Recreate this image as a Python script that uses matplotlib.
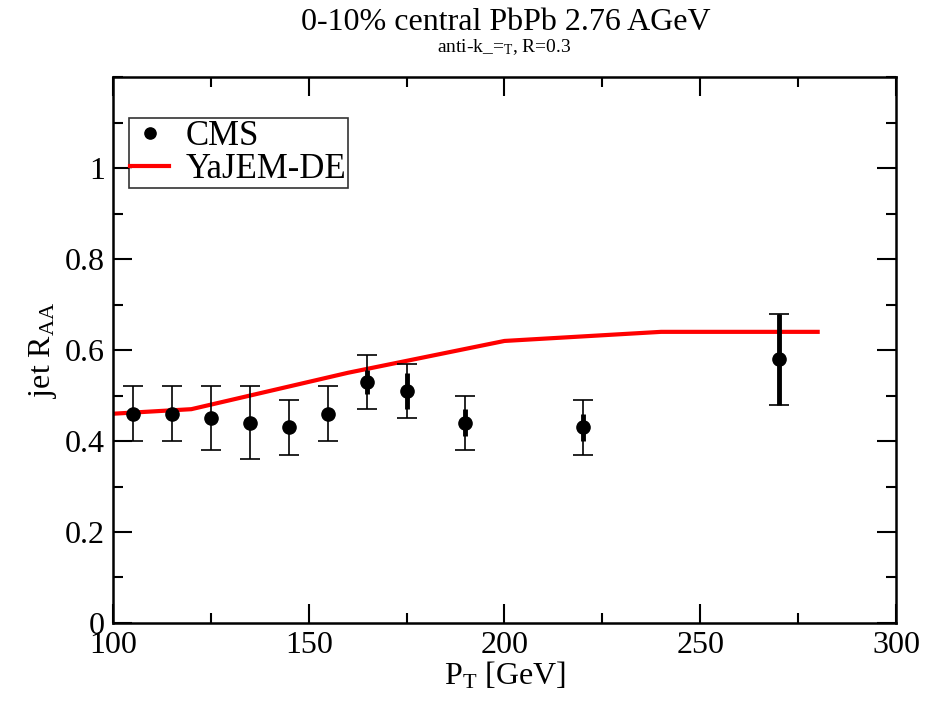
import matplotlib
matplotlib.use("Agg")
import matplotlib.pyplot as plt
from matplotlib.ticker import MultipleLocator

# Data
cms_pt = [105, 115, 125, 135, 145, 155, 165, 175, 190, 220, 270]
cms_raa = [0.46, 0.46, 0.45, 0.44, 0.43, 0.46, 0.53, 0.51, 0.44, 0.43, 0.58]
cms_sys_lo = [0.40, 0.40, 0.38, 0.36, 0.37, 0.40, 0.47, 0.45, 0.38, 0.37, 0.48]
cms_sys_hi = [0.52, 0.52, 0.52, 0.52, 0.49, 0.52, 0.59, 0.57, 0.50, 0.49, 0.68]
cms_stat = [0.01, 0.01, 0.01, 0.01, 0.01, 0.01, 0.027, 0.04, 0.03, 0.03, 0.10]

yajem_pt = [100, 120, 140, 160, 180, 200, 240, 280]
yajem_raa = [0.46, 0.47, 0.51, 0.55, 0.585, 0.62, 0.64, 0.64]

title = "0-10% central PbPb 2.76 AGeV"
xticks = [100, 150, 200, 250, 300]
yticks = [0, 0.2, 0.4, 0.6, 0.8, 1]
ytick_labels = ["0", "0.2", "0.4", "0.6", "0.8", "1"]

plt.rcParams['font.family'] = ['Liberation Serif', 'DejaVu Serif']
plt.rcParams['mathtext.fontset'] = 'custom'
plt.rcParams['mathtext.rm'] = 'Liberation Serif'
plt.rcParams['mathtext.it'] = 'Liberation Serif'

fig = plt.figure(figsize=(9.25, 7.01), dpi=100)
ax = fig.add_axes([0.1222, 0.1113, 0.9686 - 0.1222, 0.890 - 0.1113])

ax.plot(yajem_pt, yajem_raa, color='#ff0000', lw=3, label='YaJEM-DE', zorder=2)

err_lo = [r - l for r, l in zip(cms_raa, cms_sys_lo)]
err_hi = [h - r for r, h in zip(cms_raa, cms_sys_hi)]
ax.errorbar(cms_pt, cms_raa, yerr=[err_lo, err_hi], fmt='none', ecolor='black',
            elinewidth=1.2, capsize=7, capthick=1.2, zorder=3)
ax.errorbar(cms_pt, cms_raa, yerr=cms_stat, fmt='none', ecolor='black',
            elinewidth=3.5, capsize=0, zorder=3)
ax.plot(cms_pt, cms_raa, 'o', color='black', ms=9.5, ls='none', label='CMS', zorder=4)

ax.set_xlim(100, 300)
ax.set_ylim(0, 1.2)
ax.set_xticks(xticks)
ax.set_yticks(yticks)
ax.set_yticklabels(ytick_labels)
ax.xaxis.set_minor_locator(MultipleLocator(25))
ax.yaxis.set_minor_locator(MultipleLocator(0.1))
ax.tick_params(which='both', direction='in', top=True, right=True, labelsize=23, width=1.5, pad=6)
ax.tick_params(which='major', length=14)
ax.tick_params(which='minor', length=7)
for s in ax.spines.values():
    s.set_linewidth(1.8)

ax.set_xlabel(r'P$_{\mathrm{T}}$ [GeV]', fontsize=23, labelpad=0)
ax.set_ylabel(r'jet R$_{\mathrm{AA}}$', fontsize=23, labelpad=4)

fig.text(0.547, 0.968, title, ha='center', va='center', fontsize=23)
fig.text(0.545, 0.933, r'anti-k_=$_{\mathrm{T}}$, R=0.3', ha='center', va='center', fontsize=14)

h, l = ax.get_legend_handles_labels()
leg = ax.legend([h[1], h[0]], [l[1], l[0]], loc='upper left', bbox_to_anchor=(0.02, 0.925),
                fontsize=25, frameon=True, fancybox=False, edgecolor='black',
                handlelength=1.1, handletextpad=0.5, borderpad=0.05, labelspacing=0.0,
                borderaxespad=0, markerscale=0.85, handleheight=0.6)
leg.get_frame().set_linewidth(1.2)

fig.savefig('out.png', dpi=100)
